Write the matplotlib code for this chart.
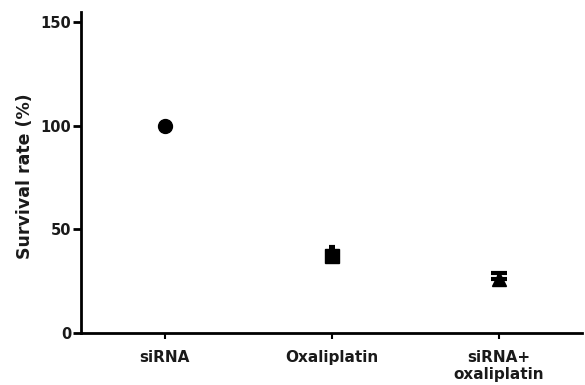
import numpy as np
import matplotlib.pyplot as plt

# Data
groups = ['siRNA', 'Oxaliplatin', 'siRNA+\noxaliplatin']
survival = [100.0, 37.3, 26.0]
err_upper = [0.0, 4.3, 2.9]
yticks = [0, 50, 100, 150]

# marker styles per group (style only)
markers = ['o', 's', '^']
msizes = [10, 10, 10.5]
caps = [0, 2.4, 5.5]

plt.rcParams['font.family'] = ['DejaVu Sans']
plt.rcParams['font.weight'] = 'bold'

fig = plt.figure(figsize=(5.85, 3.85), dpi=100)
ax = fig.add_axes([81 / 585., 1 - 333 / 385., 501 / 585., 321 / 385.])

x = np.arange(len(groups))
for xi, yi, ei, m, ms, cs in zip(x, survival, err_upper, markers, msizes, caps):
    if ei > 0:
        ax.errorbar(xi, yi, yerr=[[0], [ei]], fmt='none', ecolor='black',
                    elinewidth=3, capsize=cs, capthick=3)
    ax.plot(xi, yi, marker=m, color='black', markersize=ms, linestyle='none')

ax.set_xlim(-0.5, 2.5)
ax.set_ylim(0, 155)
ax.set_yticks(yticks)
ax.set_xticks(x)
ax.set_xticklabels(groups, fontsize=11, fontweight='bold', color='#1a1a1a',
                   linespacing=1.2)
ax.tick_params(axis='y', labelsize=10.5, width=2, length=6, direction='out',
               pad=1, labelcolor='#1a1a1a')
ax.tick_params(axis='x', width=1.5, length=4, direction='out', pad=8)
for lab in ax.get_yticklabels():
    lab.set_fontweight('bold')
ax.set_ylabel('Survival rate (%)', fontsize=12.5, fontweight='bold',
              color='#1a1a1a')
ax.yaxis.set_label_coords(-0.094, 0.49)

for side in ['top', 'right']:
    ax.spines[side].set_visible(False)
for side in ['left', 'bottom']:
    ax.spines[side].set_linewidth(2)

plt.savefig('out.png', dpi=100)
